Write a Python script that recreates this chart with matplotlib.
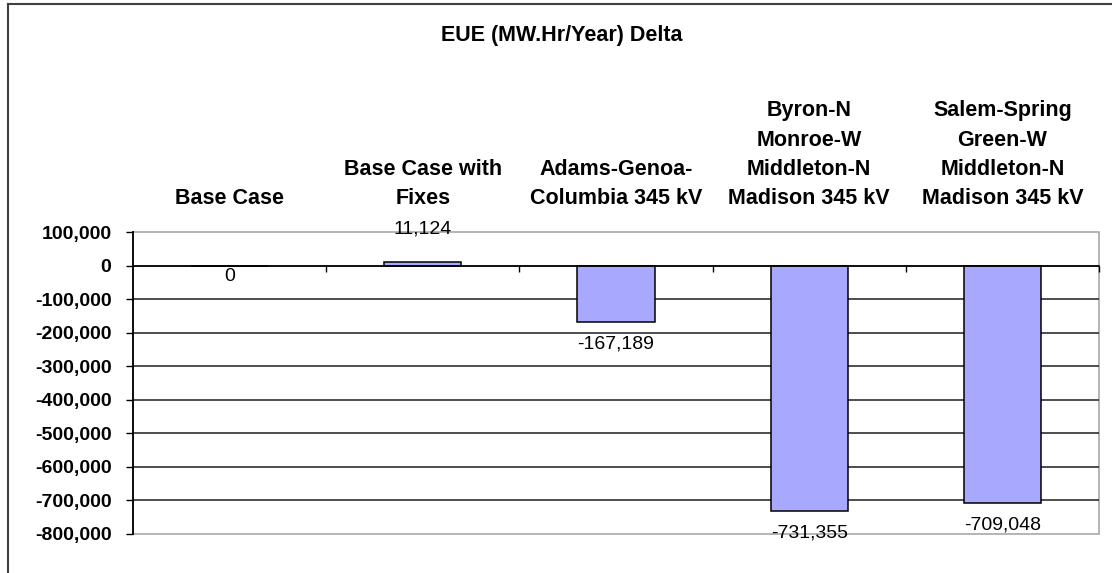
import numpy as np
import matplotlib
matplotlib.use('Agg')
import matplotlib.pyplot as plt
from matplotlib.patches import Rectangle
from matplotlib.lines import Line2D

plt.rcParams['font.family'] = ['Liberation Sans', 'DejaVu Sans']

#-------------------------------------------------------------------------------
categories = ['Base Case',
              'Base Case with\nFixes',
              'Adams-Genoa-\nColumbia 345 kV',
              'Byron-N\nMonroe-W\nMiddleton-N\nMadison 345 kV',
              'Salem-Spring\nGreen-W\nMiddleton-N\nMadison 345 kV']
eue_delta = [0, 11124, -167189, -731355, -709048]
y_ticks = list(range(-800000, 100001, 100000))

#-------------------------------------------------------------------------------
W, H = 1112, 573
fig = plt.figure(figsize=(W/100, H/100), dpi=100)
ax = fig.add_axes([133/W, 1-533.5/H, 966/W, (533.5-232.2)/H])

x = np.arange(len(categories))
ax.bar(x, eue_delta, width=0.4, color='#a8a8ff', edgecolor='black',
       linewidth=1.1, zorder=3)

ax.set_xlim(-0.5, len(categories)-0.5)
ax.set_ylim(y_ticks[0], y_ticks[-1])
ax.set_yticks(y_ticks)
ax.set_yticklabels([f'{t:,}' for t in y_ticks], fontsize=14, fontweight='bold')
ax.tick_params(axis='y', direction='out', length=5, width=1, pad=10.5)

# interior gridlines (outer ones are the plot-area border)
ax.hlines(y_ticks[1:-1], -0.5, len(categories)-0.5, colors='#1e1e1e',
          linewidth=1.1, zorder=1)

# category axis crosses at zero, ticks between categories
ax.spines['bottom'].set_position(('data', 0))
ax.spines['bottom'].set_linewidth(1.1)
ax.spines['bottom'].set_zorder(4)
ax.spines['top'].set_visible(False)
ax.spines['right'].set_visible(False)
ax.spines['left'].set_linewidth(1.3)
ax.set_xticks(x + 0.5)
ax.set_xticklabels([])
ax.tick_params(axis='x', direction='out', length=4.5, width=1)

ax.add_patch(Rectangle((0, 0), 1, 1, transform=ax.transAxes, fill=False,
                       edgecolor='#a0a0a0', linewidth=1.1, clip_on=False,
                       zorder=0.5))

# value labels
for xi, v in zip(x, eue_delta):
    if v > 0:
        off = 33
    elif v == 0:
        off = -11
    else:
        off = -22
    ax.annotate(f'{v:,}', xy=(xi, v), xytext=(0, off),
                textcoords='offset pixels', ha='center', va='center',
                fontsize=14, zorder=5)

# category names above the plot
for xi, lab in zip(x, categories):
    ax.annotate(lab, xy=(xi, 1), xycoords=('data', 'axes fraction'),
                xytext=(0, 23), textcoords='offset pixels',
                ha='center', va='bottom', multialignment='center',
                linespacing=1.52, fontsize=15.5, fontweight='bold')

fig.text(561.5/W, 1-35.5/H, 'EUE (MW.Hr/Year) Delta', ha='center',
         va='center', fontsize=15.5, fontweight='bold')

# chart frame
fig.add_artist(Line2D([8/W, 8/W], [0, 1-3.5/H], transform=fig.transFigure,
                      color='#404040', linewidth=1.5))
fig.add_artist(Line2D([8/W, 1], [1-3.5/H, 1-3.5/H], transform=fig.transFigure,
                      color='#404040', linewidth=1.5))

fig.savefig('out.png', dpi=100)
